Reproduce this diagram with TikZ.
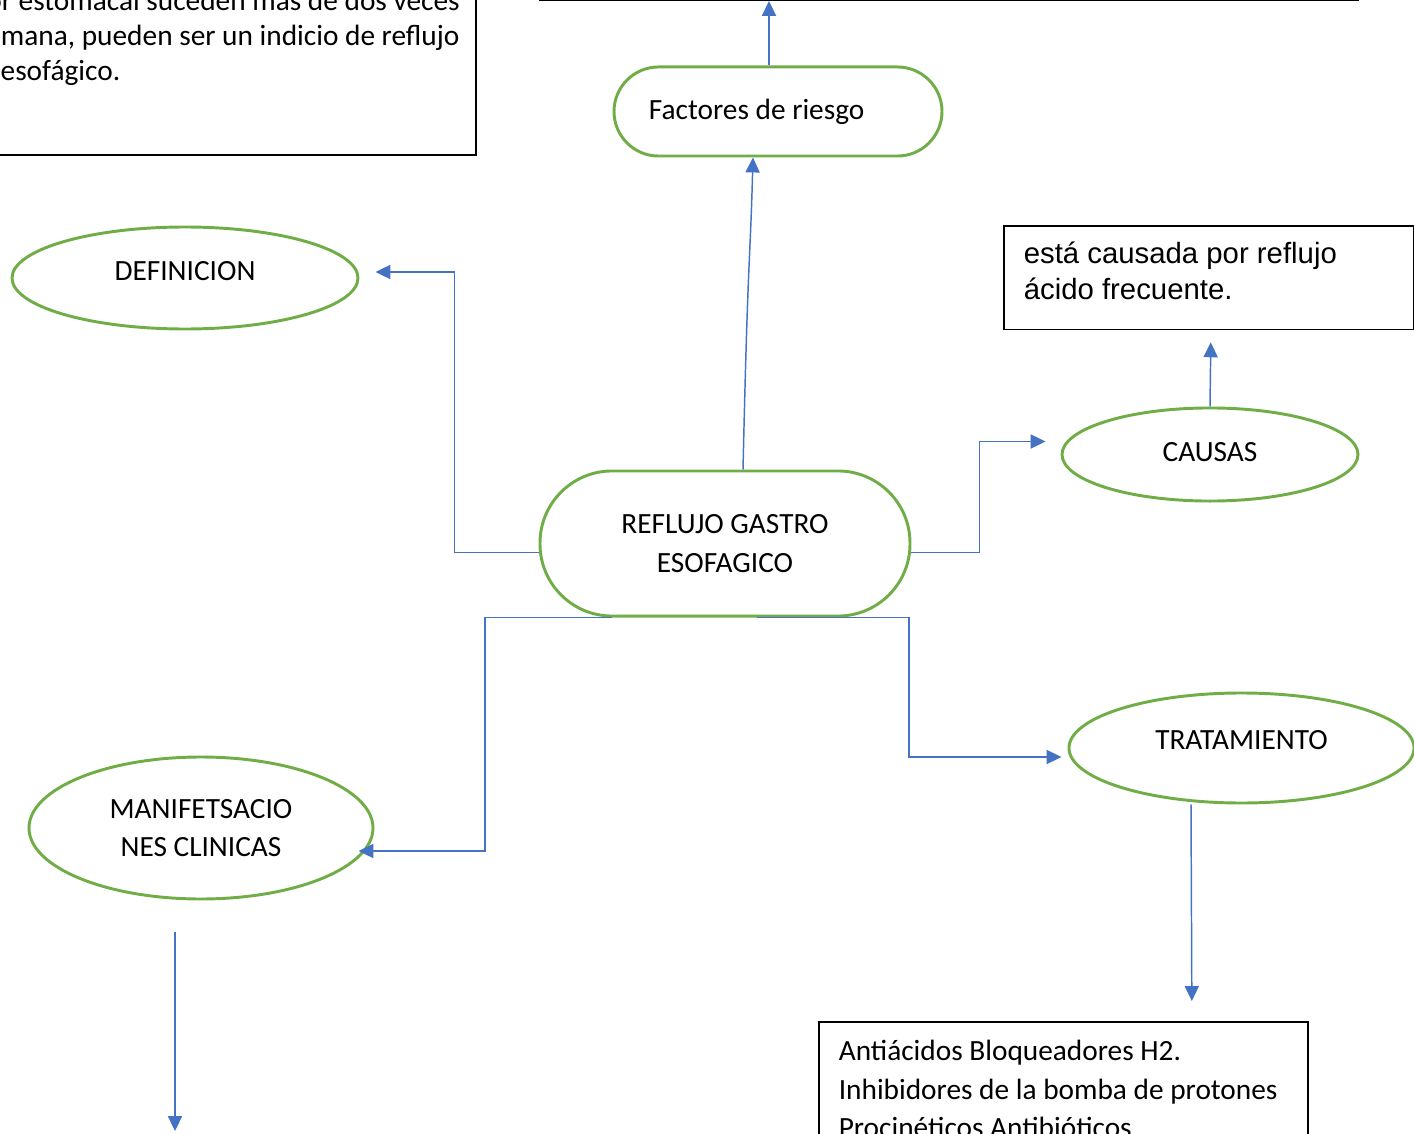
\documentclass[tikz,border=0pt]{standalone}
\usepackage{fontspec}
\setmainfont{Carlito}
\newfontfamily\arialfont{Liberation Sans}
\usetikzlibrary{positioning,arrows.meta,calc,shapes.geometric}

\definecolor{ovgreen}{HTML}{70AD47}
\definecolor{arrblue}{HTML}{4472C4}

\begin{document}
\begin{tikzpicture}[
  x=0.375pt, y=-0.375pt,
  font=\fontsize{11}{14.5}\selectfont,
  pill/.style={draw=ovgreen, line width=1.1pt, fill=white, align=center},
  oval/.style={ellipse, draw=ovgreen, line width=1.1pt, align=center, inner sep=2pt},
  txtbox/.style={draw=black, line width=0.6pt, align=flush left, inner xsep=7.5pt},
  arr/.style={-{Triangle[length=5.6pt, width=5.3pt]}, draw=arrblue, line width=0.55pt}
]
\useasboundingbox (0,0) rectangle (1414,1134);
\clip (0,0) rectangle (1414,1134);

% nodes
\node[pill, rounded corners=27pt, minimum width=138.75pt, minimum height=54.4pt] (refl) at (725,543.5) {REFLUJO GASTRO\\ESOFAGICO};
\node[pill, rounded corners=16.7pt, minimum width=123pt, minimum height=33.4pt, text width=96.8pt, inner xsep=13.1pt, align=flush left] (fact) at (778,111.5) {Factores de riesgo};
\node[oval, minimum width=129.75pt, minimum height=38.25pt, text depth=5.2pt] (defi) at (185,278) {DEFINICION};
\node[oval, minimum width=111pt, minimum height=34.9pt, text depth=2pt] (causas) at (1210,454.5) {CAUSAS};
\node[oval, minimum width=129.4pt, minimum height=41.25pt, text depth=6pt] (trat) at (1241.5,748) {TRATAMIENTO};
\node[oval, minimum width=129pt, minimum height=53.25pt] (mani) at (201,828) {MANIFETSACIO\\NES CLINICAS};

% text boxes
\node[txtbox, anchor=south east, text width=202.5pt, inner xsep=3.4pt, inner ysep=1.5pt, font=\fontsize{11}{13.2}\selectfont] (nota) at (477,156) {y ardor estomacal suceden más de dos veces\\por semana, pueden ser un indicio de reflujo\\gastroesofágico.\\~\\~};
\node[txtbox, anchor=south west, minimum width=306.75pt, minimum height=40pt] (topbox) at (539,1) {};
\node[txtbox, anchor=north west, text width=138.75pt, inner ysep=5.9pt, text depth=19pt, font=\arialfont\fontsize{11}{13.5}\selectfont] (causatxt) at (1003,225) {está causada por reflujo\\ácido frecuente.};
\node[txtbox, anchor=north west, text width=168.4pt, inner ysep=7pt, font=\fontsize{11}{14.4}\selectfont] (tratxt) at (818,1021) {Antiácidos Bloqueadores H2.\\Inhibidores de la bomba de protones\\Procinéticos Antibióticos};

\coordinate (factup) at ($(fact.north)+(-9,0)$);
\coordinate (maniend) at (175,1131);

% connectors
\draw[arr] ($(refl.west)+(0,9)$) -- ++(-84,0) |- ($(defi.east)+(16,-6)$);
\draw[arr] ($(refl.east)+(0,9)$) -- ++(68,0) |- ($(causas.west)+(-15,-13)$);
\draw[arr] ($(refl.north)+(18,0)$) .. controls +(5,-220) and +(-3,110) .. ($(fact.south)+(-25,0)$);
\draw[arr] (factup) -- (factup |- topbox.south);
\draw[arr] (causas.north) -- ($(causatxt.south)+(2,12)$);
\draw[arr] ($(refl.south)+(-113,0)$) -- ++(-127,0) |- ($(mani.east)+(-16,23)$);
\draw[arr] ($(refl.south)+(32,0)$) -- ++(152,0) |- ($(trat.west)+(-6,9)$);
\draw[arr] ($(trat.south)+(-50.5,0)$) -- ($(tratxt.north)+(128.5,-20)$);
\draw[arr] ($(mani.south)+(-26,32)$) -- (maniend);

\end{tikzpicture}
\end{document}
